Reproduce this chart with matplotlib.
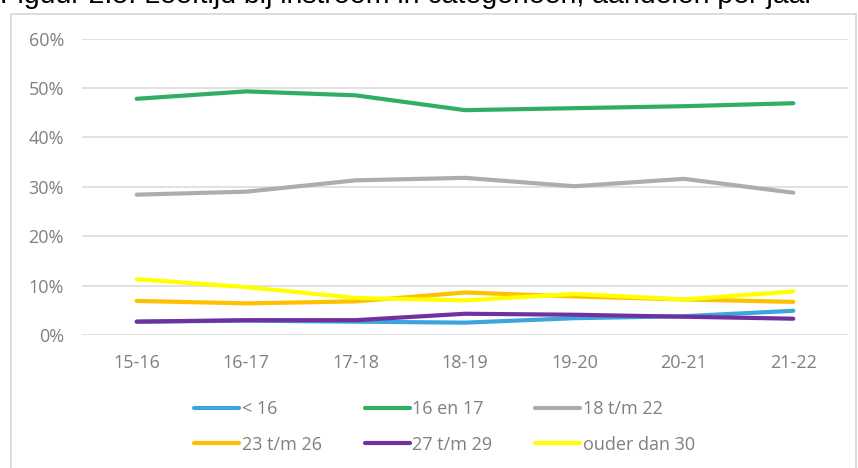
import numpy as np
import matplotlib.pyplot as plt
from matplotlib.patches import Rectangle
from matplotlib.ticker import PercentFormatter

# ---------- Data (aandelen in %) ----------
years = ["15-16", "16-17", "17-18", "18-19", "19-20", "20-21", "21-22"]
labels = ["< 16", "16 en 17", "18 t/m 22", "23 t/m 26", "27 t/m 29", "ouder dan 30"]

lt16 = [2.7, 2.9, 2.7, 2.5, 3.4, 3.8, 4.9]
age16_17 = [47.8, 49.3, 48.5, 45.5, 45.9, 46.3, 46.9]
age18_22 = [28.4, 29.0, 31.3, 31.8, 30.1, 31.6, 28.8]
age23_26 = [6.9, 6.4, 6.8, 8.6, 7.8, 7.2, 6.7]
age27_29 = [2.7, 3.0, 3.0, 4.3, 4.1, 3.7, 3.3]
gt30 = [11.3, 9.7, 7.5, 7.0, 8.3, 7.2, 8.8]

series = [lt16, age16_17, age18_22, age23_26, age27_29, gt30]
colors = ["#3BA6DD", "#31AE64", "#ADADAD", "#FFC000", "#7030A0", "#FFFF00"]

# ---------- Plot ----------
plt.rcParams['font.family'] = ['Open Sans', 'DejaVu Sans']
txt_col = "#808080"
fs = 13

fig = plt.figure(figsize=(8.58, 4.68), dpi=100)
ax = fig.add_axes([82/858, 1 - 335/468, (848-82)/858, (335-38.5)/468])

x = np.arange(len(years))
handles = []
for vals, lab, col in zip(series, labels, colors):
    h, = ax.plot(x, vals, color=col, lw=3.0, label=lab, solid_capstyle='round', solid_joinstyle='round')
    handles.append(h)

ax.set_xlim(-0.5, len(years) - 0.5)
ax.set_ylim(0, 60)
ax.set_yticks(np.arange(0, 61, 10))
ax.yaxis.set_major_formatter(PercentFormatter(decimals=0))
ax.set_xticks(x)
ax.set_xticklabels(years)
ax.grid(axis='y', color="#D9D9D9", lw=1.1)
ax.set_axisbelow(True)
for s in ax.spines.values():
    s.set_visible(False)
ax.tick_params(axis='both', length=0, labelsize=fs, colors=txt_col)
ax.tick_params(axis='y', pad=13)
ax.tick_params(axis='x', pad=14)

# legend: 2 rows x 3 columns, filled row-wise
order = [0, 3, 1, 4, 2, 5]
leg = fig.legend([handles[i] for i in order], [labels[i] for i in order],
                 ncol=3, loc='center left', bbox_to_anchor=(178/858, 1 - 427/468),
                 frameon=False, handlelength=2.5, handletextpad=0.15,
                 columnspacing=2.35, labelspacing=0.95, labelcolor=txt_col,
                 prop={'size': fs})

# outer chart frame
fig.patches.append(Rectangle((11/858, -0.1), (856-11)/858, 1.1 - 14/468,
                             transform=fig.transFigure, fill=False,
                             edgecolor="#D9D9D9", lw=1.3))

# caption (cut off at top, like the source)
fig.text(0.0, 1 - 3/468, "Figuur 2.5: Leeftijd bij instroom in categorieën, aandelen per jaar",
         family='Liberation Sans', fontsize=20.5, color='black', va='baseline', ha='left')

fig.savefig("out.png", dpi=100)
